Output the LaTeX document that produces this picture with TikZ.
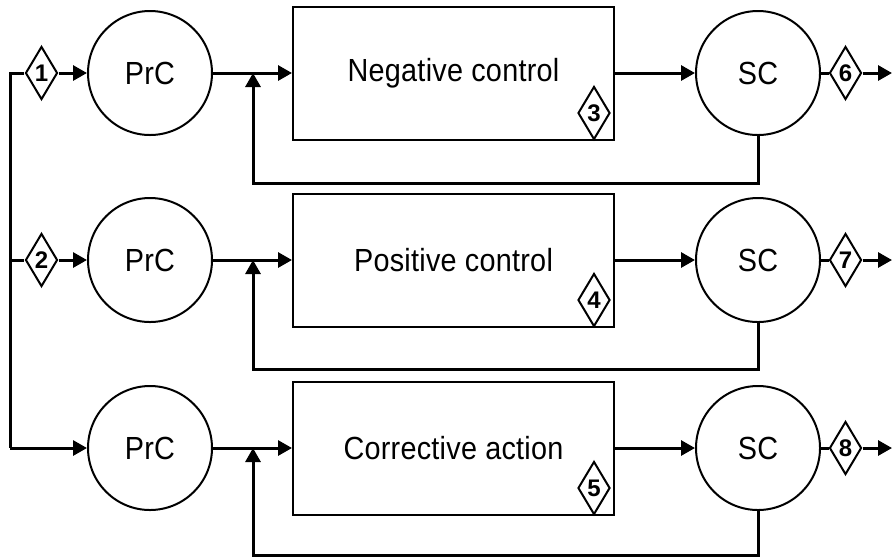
\documentclass[tikz,border=0pt]{standalone}
\usepackage{fontspec}
\setmainfont{Liberation Sans}
\newfontfamily\narrowfont{Liberation Sans}[FakeStretch=0.9, LetterSpace=0.8]
\usetikzlibrary{shapes.geometric,arrows.meta,positioning}

\tikzset{
    stage/.style={circle, draw=black, line width=1pt, minimum size=62pt, inner sep=0pt, font=\narrowfont\fontsize{16}{18}\selectfont},
    action/.style={rectangle, draw=black, line width=1pt, minimum width=160.5pt, minimum height=66.5pt, inner sep=0pt, font=\narrowfont\fontsize{16}{18}\selectfont},
    marker/.style={diamond, draw=black, fill=white, line width=1pt, minimum width=16pt, minimum height=26.5pt, inner sep=0pt, font=\bfseries\fontsize{12}{14}\selectfont},
    flow/.style={-{Triangle[length=7pt,width=7.5pt]}, line width=1.5pt, black},
    link/.style={line width=1.5pt, black},
}

\begin{document}
\begin{tikzpicture}[x=0.5pt, y=-0.5pt]
    \useasboundingbox (0,0) rectangle (893,559);

    % One row per control loop: PrC -> action -> SC, with feedback from SC
    \foreach \r/\y/\fy/\txt/\inner/\outer in {1/73/183/Negative control/3/6, 2/260/369/Positive control/4/7, 3/448/555/Corrective action/5/8} {
        \node[stage] (prc\r) at (150,\y) {PrC};
        \node[action] (box\r) at (453.5,\y) {\txt};
        \node[stage] (sc\r) at (758,\y) {SC};
        \node[marker, anchor=south] (in\r) at ([xshift=-10.5pt]box\r.south east) {\inner};
        \node[marker] (dd\r) at (845.5,\y) {\outer};
        \coordinate (j\r) at (253,\y);
        \coordinate (fb\r) at (253,\fy);
        \coordinate (out\r) at (892,\y);

        \draw[flow] (prc\r) -- (box\r);
        \draw[flow] (box\r) -- (sc\r);
        \draw[flow] (sc\r.south) |- (fb\r) -- (j\r);
        \draw[link] (sc\r) -- (dd\r);
        \draw[flow] (dd\r) -- (out\r);
    }

    % Common input rail on the left
    \node[marker] (d1) at (41.5,73) {1};
    \node[marker] (d2) at (41.5,260) {2};
    \coordinate (rail1) at (10,73);
    \coordinate (rail2) at (10,260);
    \coordinate (rail3) at (10,448);

    \draw[link] (d1) -- (rail1) -- (rail3);
    \draw[flow] (rail3) -- (prc3);
    \draw[flow] (d1) -- (prc1);
    \draw[link] (rail2) -- (d2);
    \draw[flow] (d2) -- (prc2);

\end{tikzpicture}
\end{document}
